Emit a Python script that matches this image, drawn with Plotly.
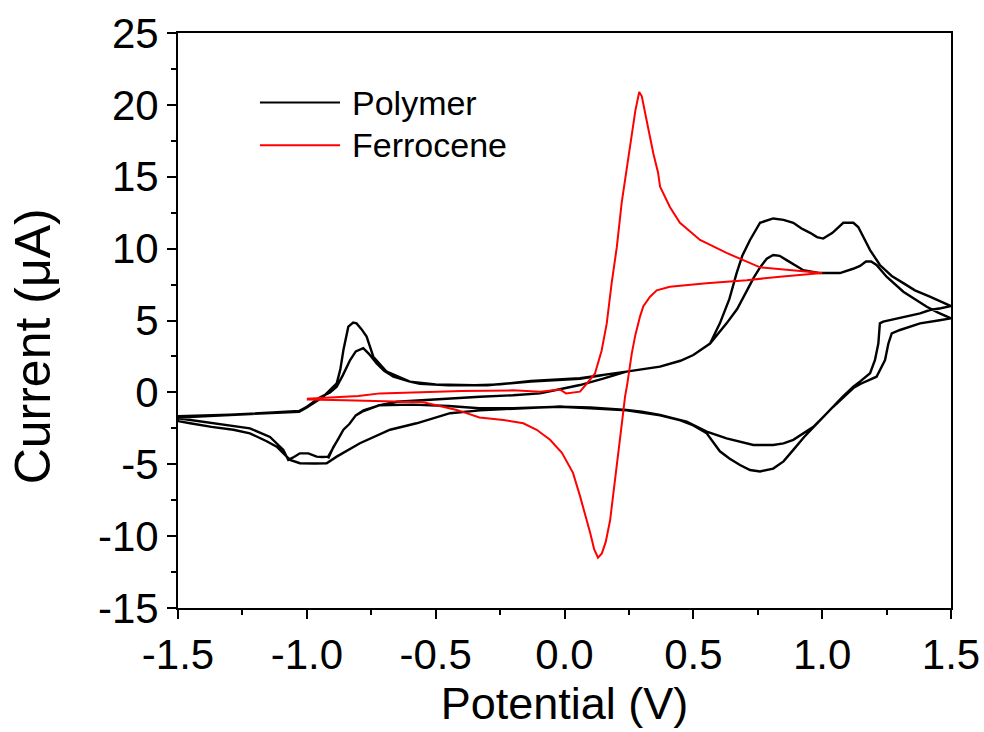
import plotly.graph_objects as go

# ---- Ferrocene CV: forward sweep -1.0 -> 1.0 V, then back to -1.0 V ----
fc_potential = [
    -1.0, -0.9, -0.8, -0.716, -0.6, -0.5, -0.4, -0.3, -0.2, -0.095, -0.018, 0.006, 0.033, 0.06,
    0.086, 0.099, 0.118, 0.144, 0.164, 0.183, 0.203, 0.222, 0.244, 0.261, 0.275, 0.29, 0.3,
    0.319, 0.345, 0.363, 0.371, 0.409, 0.448, 0.526, 0.629, 0.759, 0.888, 1.0,
    0.836, 0.707, 0.551, 0.409, 0.358, 0.332, 0.306, 0.293, 0.275, 0.261, 0.244, 0.235, 0.223,
    0.204, 0.19, 0.177, 0.16, 0.145, 0.13, 0.115, 0.1, 0.087, 0.06, 0.033, -0.01, -0.056,
    -0.108, -0.16, -0.237, -0.33, -0.418, -0.548, -0.7, -0.85, -1.0,
]
fc_current = [
    -0.45, -0.35, -0.25, -0.07, 0.0, 0.05, 0.1, 0.12, 0.14, 0.05, 0.2, -0.07, 0.0, 0.05,
    0.6, 0.86, 1.3, 2.9, 4.8, 7.6, 10.1, 13.2, 15.9, 17.8, 19.6, 20.9, 20.6,
    18.9, 16.6, 15.3, 14.3, 12.9, 11.8, 10.6, 9.7, 8.7, 8.5, 8.3,
    8.05, 7.8, 7.6, 7.35, 7.1, 6.65, 6.0, 5.27, 4.0, 2.7, 0.63, -0.3, -2.1,
    -4.9, -7.0, -8.9, -10.4, -11.2, -11.5, -10.9, -9.8, -8.9, -7.2, -5.6, -4.2, -3.3,
    -2.6, -2.15, -1.92, -1.75, -1.22, -0.69, -0.6, -0.55, -0.5,
]

# ---- Polymer CV: consecutive sweeps between -1.5 V and 1.5 V ----
# sweep 1 (anodic, from the cathodic peak region up to 1.5 V)
pol_sweep1_v = [
    -0.917, -0.897, -0.88, -0.858, -0.835, -0.81, -0.78, -0.72, -0.651, -0.548, -0.444, -0.328,
    -0.2, -0.095, 0.0, 0.06, 0.15, 0.24, 0.371, 0.45, 0.5, 0.565, 0.603, 0.64, 0.668, 0.69, 0.72,
    0.759, 0.81, 0.85, 0.888, 0.92, 0.953, 0.98, 1.004, 1.04, 1.082, 1.121, 1.14, 1.16, 1.186,
    1.224, 1.27, 1.315, 1.36, 1.418, 1.5,
]
pol_sweep1_i = [
    -4.6, -3.8, -3.3, -2.6, -2.2, -1.6, -1.25, -0.9, -0.65, -0.53, -0.41, -0.3,
    -0.2, -0.07, 0.29, 0.51, 0.95, 1.44, 1.79, 2.2, 2.6, 3.4, 4.8, 6.5, 8.3, 9.5, 10.6,
    11.8, 12.1, 12.0, 11.8, 11.4, 11.1, 10.8, 10.7, 11.1, 11.8, 11.8, 11.5, 10.8, 9.9,
    8.86, 8.1, 7.6, 7.1, 6.66, 6.0,
]
# sweep 2 (cathodic, 1.5 V down to -1.5 V)
pol_sweep2_v = [
    1.5, 1.46, 1.418, 1.38, 1.289, 1.237, 1.224, 1.222, 1.218, 1.205, 1.186, 1.15, 1.121, 1.08,
    1.043, 1.0, 0.966, 0.93, 0.888, 0.85, 0.81, 0.759, 0.72, 0.681, 0.64, 0.603, 0.552, 0.5,
    0.45, 0.371, 0.3, 0.241, 0.1, -0.018, -0.1, -0.2, -0.328, -0.444, -0.574, -0.677, -0.794,
    -0.884, -0.923, -0.97, -1.027, -1.065, -1.091, -1.117, -1.156, -1.221, -1.285, -1.37,
    -1.453, -1.5,
]
pol_sweep2_i = [
    6.0, 5.85, 5.73, 5.5, 5.15, 4.92, 4.8, 4.0, 3.4, 2.25, 1.33, 0.8, 0.4, -0.3,
    -1.0, -1.8, -2.4, -3.1, -4.0, -4.8, -5.3, -5.5, -5.4, -5.05, -4.6, -4.1, -2.85, -2.3,
    -1.95, -1.6, -1.4, -1.25, -1.1, -1.0, -1.05, -1.12, -1.25, -1.45, -2.15, -2.6, -3.54,
    -4.47, -4.93, -4.95, -4.93, -4.7, -4.24, -3.78, -3.4, -2.85, -2.6, -2.4,
    -2.15, -2.0,
]
# sweep 3 (anodic, -1.5 V up to 1.5 V)
pol_sweep3_v = [
    -1.5, -1.3, -1.15, -1.03, -1.0, -0.936, -0.884, -0.87, -0.858, -0.839, -0.82, -0.807,
    -0.788, -0.768, -0.742, -0.715, -0.69, -0.6, -0.5, -0.35, -0.25, -0.13, 0.06, 0.24, 0.37,
    0.45, 0.5, 0.565, 0.629, 0.67, 0.707, 0.735, 0.759, 0.785, 0.81, 0.835, 0.862, 0.9, 0.927,
    0.991, 1.069, 1.12, 1.147, 1.17, 1.19, 1.211, 1.25, 1.315, 1.36, 1.406, 1.45, 1.5,
]
pol_sweep3_i = [
    -1.75, -1.6, -1.45, -1.35, -1.05, -0.3, 0.63, 1.6, 2.95, 4.57, 4.85, 4.8,
    4.4, 3.88, 2.48, 1.9, 1.44, 0.75, 0.55, 0.5, 0.56, 0.79, 0.98, 1.44, 1.79,
    2.2, 2.6, 3.4, 4.8, 5.8, 7.1, 8.0, 8.7, 9.3, 9.56, 9.5, 9.2, 8.8, 8.5,
    8.3, 8.3, 8.6, 8.8, 9.1, 9.1, 8.86, 8.05, 7.0, 6.5, 5.96, 5.55, 5.15,
]
# sweep 4 (cathodic, 1.5 V down to -1.5 V)
pol_sweep4_v = [
    1.5, 1.45, 1.38, 1.302, 1.27, 1.257, 1.244, 1.211, 1.15, 1.121, 1.043, 0.966, 0.888, 0.85,
    0.81, 0.733, 0.68, 0.629, 0.552, 0.474, 0.42, 0.371, 0.3, 0.241, 0.1, -0.018, -0.2, -0.33,
    -0.45, -0.59, -0.72, -0.78, -0.81, -0.835, -0.858, -0.88, -0.897, -0.917, -0.94, -0.962,
    -0.994, -1.027, -1.05, -1.072, -1.091, -1.143, -1.221, -1.3, -1.4, -1.5,
]
pol_sweep4_i = [
    5.15, 5.0, 4.8, 4.34, 4.1, 3.4, 2.25, 1.09, 0.6, 0.3, -1.0, -2.4, -3.3, -3.55,
    -3.66, -3.66, -3.45, -3.2, -2.73, -2.04, -1.8, -1.57, -1.35, -1.22, -1.05, -1.0, -1.1, -1.1,
    -0.95, -0.85, -0.9, -1.3, -1.6, -2.2, -2.6, -3.3, -3.8, -4.47, -4.5, -4.47,
    -4.24, -4.24, -4.5, -4.7, -4.0, -3.1, -2.5, -2.3, -2.05, -1.8,
]
# sweep 5 (anodic, -1.5 V up to the end of the record)
pol_sweep5_v = [
    -1.5, -1.3, -1.15, -1.03, -1.0, -0.95, -0.91, -0.884, -0.86, -0.832, -0.81, -0.781,
    -0.76, -0.729, -0.7, -0.664, -0.6, -0.561, -0.45, -0.3, -0.13, 0.06, 0.15,
]
pol_sweep5_i = [
    -1.65, -1.55, -1.42, -1.3, -1.0, -0.35, 0.0, 0.4, 1.2, 2.25, 2.85, 3.07,
    2.7, 2.02, 1.5, 1.09, 0.75, 0.6, 0.5, 0.5, 0.75, 0.95, 1.2,
]

polymer_v = pol_sweep1_v + pol_sweep2_v + pol_sweep3_v + pol_sweep4_v + pol_sweep5_v
polymer_i = pol_sweep1_i + pol_sweep2_i + pol_sweep3_i + pol_sweep4_i + pol_sweep5_i

series_names = ["Polymer", "Ferrocene"]
series_colors = ["#000000", "#ff0000"]

x_ticks = [-1.5, -1.0, -0.5, 0.0, 0.5, 1.0, 1.5]
y_ticks = [-15, -10, -5, 0, 5, 10, 15, 20, 25]

FONT = "Arial, Liberation Sans, sans-serif"

fig = go.Figure()
fig.add_trace(go.Scatter(x=polymer_v, y=polymer_i, mode="lines", name=series_names[0],
                         line=dict(color=series_colors[0], width=2.4), showlegend=False))
fig.add_trace(go.Scatter(x=fc_potential, y=fc_current, mode="lines", name=series_names[1],
                         line=dict(color=series_colors[1], width=2), showlegend=False))

axis_common = dict(
    showgrid=False, zeroline=False, showline=True, linecolor="black", linewidth=2,
    mirror=True, ticks="outside", ticklen=9, tickwidth=2, tickcolor="black",
    automargin=False,
    tickfont=dict(family=FONT, size=42, color="black"),
)

fig.update_xaxes(
    range=[-1.5, 1.5], tickvals=x_ticks, ticktext=[f"{v:.1f}" for v in x_ticks],
    minor=dict(dtick=0.25, tick0=-1.5, ticks="outside", ticklen=5, tickwidth=2,
               tickcolor="black", showgrid=False),
    title=dict(text="Potential (V)", font=dict(family=FONT, size=45, color="black"), standoff=10),
    **axis_common,
)
fig.update_yaxes(
    range=[-15, 25], tickvals=y_ticks, ticktext=[str(v) for v in y_ticks],
    minor=dict(dtick=2.5, tick0=-15, ticks="outside", ticklen=5, tickwidth=2,
               tickcolor="black", showgrid=False),
    **axis_common,
)

# y-axis title
fig.add_annotation(xref="paper", yref="paper", x=-0.1876, y=0.455, text="Current (μA)",
                   textangle=-90, showarrow=False, xanchor="center", yanchor="middle",
                   font=dict(family=FONT, size=50, color="black"))

# legend box drawn inside the plot area
legend_rows = [0.879, 0.805]
for name, color, yrow in zip(series_names, series_colors, legend_rows):
    fig.add_shape(type="line", xref="paper", yref="paper", x0=0.106, x1=0.2096,
                  y0=yrow, y1=yrow, line=dict(color=color, width=2))
    fig.add_annotation(xref="paper", yref="paper", x=0.2225, y=yrow, text=name,
                       showarrow=False, xanchor="left", yanchor="middle",
                       font=dict(family=FONT, size=34, color="black"))

fig.update_layout(
    width=984, height=732,
    margin=dict(l=178, r=33, t=33, b=124),
    paper_bgcolor="white", plot_bgcolor="white",
    showlegend=False,
)

fig.write_html("out.html")
